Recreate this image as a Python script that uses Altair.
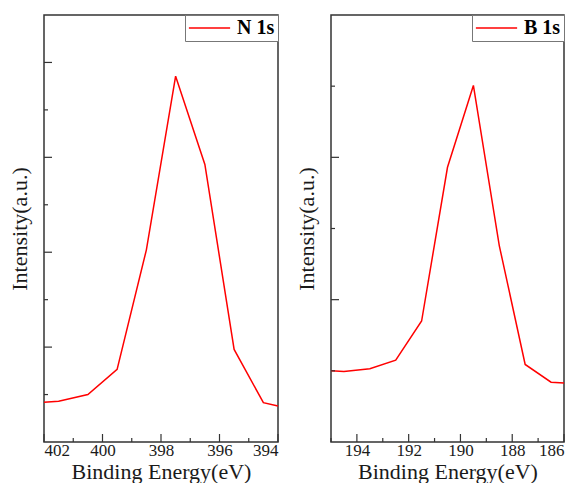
import altair as alt
import pandas as pd

# N 1s panel
n_energy = [402, 401.5, 400.5, 399.5, 398.5, 397.5, 396.5, 395.5, 394.5, 394]
n_intensity = [0.84, 0.86, 1.0, 1.53, 4.05, 7.71, 5.85, 1.95, 0.83, 0.76]
n_xticks_major = [402, 400, 398, 396, 394]
n_xticks_minor = [401, 399, 397, 395]
n_yticks_major = [2, 4, 6, 8]
n_yticks_minor = [1, 3, 5, 7]

# B 1s panel
b_energy = [195, 194.5, 193.5, 192.5, 191.5, 190.5, 189.5, 188.5, 187.5, 186.5, 186]
b_intensity = [1.0, 0.99, 1.03, 1.15, 1.70, 3.86, 5.01, 2.76, 1.09, 0.84, 0.83]
b_xticks_major = [194, 192, 190, 188, 186]
b_xticks_minor = [195, 193, 191, 189, 187]
b_yticks_major = [2, 4]
b_yticks_minor = [1, 3, 5]

FONT = "Liberation Serif"
TXT = "#1a1a1a"
H = 427
MAJ = 8
MIN = 4


def panel(energy, intensity, label, xdom, ydom, xmaj, xmin, ymaj, ymin, width):
    df = pd.DataFrame({"energy": energy, "intensity": intensity, "series": label})
    xs = alt.Scale(domain=xdom, reverse=True, nice=False, zero=False)
    ys = alt.Scale(domain=ydom, nice=False, zero=False)
    xaxis = alt.Axis(values=xmaj, ticks=False, domain=False, grid=False,
                     labelPadding=0, titlePadding=3)
    yaxis = alt.Axis(labels=False, ticks=False, domain=False, grid=False,
                     titlePadding=13)
    line = alt.Chart(df).mark_line(strokeWidth=1.5).encode(
        x=alt.X("energy:Q", scale=xs, axis=xaxis, title="Binding Energy(eV)"),
        y=alt.Y("intensity:Q", scale=ys, axis=yaxis, title="Intensity(a.u.)"),
        color=alt.Color("series:N", scale=alt.Scale(range=["#ff0000"]),
                        legend=alt.Legend(title=None, orient="top-right", offset=0,
                                          strokeColor="#777", fillColor="white",
                                          padding=3, symbolType="stroke",
                                          symbolSize=1700, symbolStrokeWidth=1.5,
                                          clipHeight=20, labelFont=FONT,
                                          labelFontWeight="bold", labelFontSize=20,
                                          labelColor="#000", labelOffset=6,
                                          cornerRadius=0)),
    )

    def yticks(vals, size):
        return alt.Chart(pd.DataFrame({"v": vals})).mark_rule(
            color="#333", strokeWidth=1.2).encode(
            y=alt.Y("v:Q", scale=ys, axis=yaxis, title="Intensity(a.u.)"),
            x=alt.value(0), x2=alt.value(size))

    def xticks(vals, size):
        return alt.Chart(pd.DataFrame({"v": vals})).mark_rule(
            color="#333", strokeWidth=1.2).encode(
            x=alt.X("v:Q", scale=xs, axis=xaxis, title="Binding Energy(eV)"),
            y=alt.value(H), y2=alt.value(H - size))

    return alt.layer(
        line, xticks(xmaj, MAJ), xticks(xmin, MIN), yticks(ymaj, MAJ), yticks(ymin, MIN)
    ).properties(width=width, height=H)


left = panel(n_energy, n_intensity, "N 1s", [394, 402], [0, 9],
             n_xticks_major, n_xticks_minor, n_yticks_major, n_yticks_minor, 234)
right = panel(b_energy, b_intensity, "B 1s", [186, 195], [0, 6],
              b_xticks_major, b_xticks_minor, b_yticks_major, b_yticks_minor, 233)

chart = alt.hconcat(left, right, spacing=12).resolve_scale(
    color="independent", x="independent", y="independent"
).properties(
    padding={"left": 7, "top": 13, "right": 0, "bottom": 0}
).configure(
    background="white", font=FONT
).configure_view(
    stroke="#333", strokeWidth=1.5
).configure_axis(
    labelFont=FONT, labelFontSize=17, labelColor=TXT,
    titleFont=FONT, titleFontSize=22, titleFontWeight="normal", titleColor=TXT
)

chart.save("out.html", embed_options={"renderer": "svg", "actions": False})
